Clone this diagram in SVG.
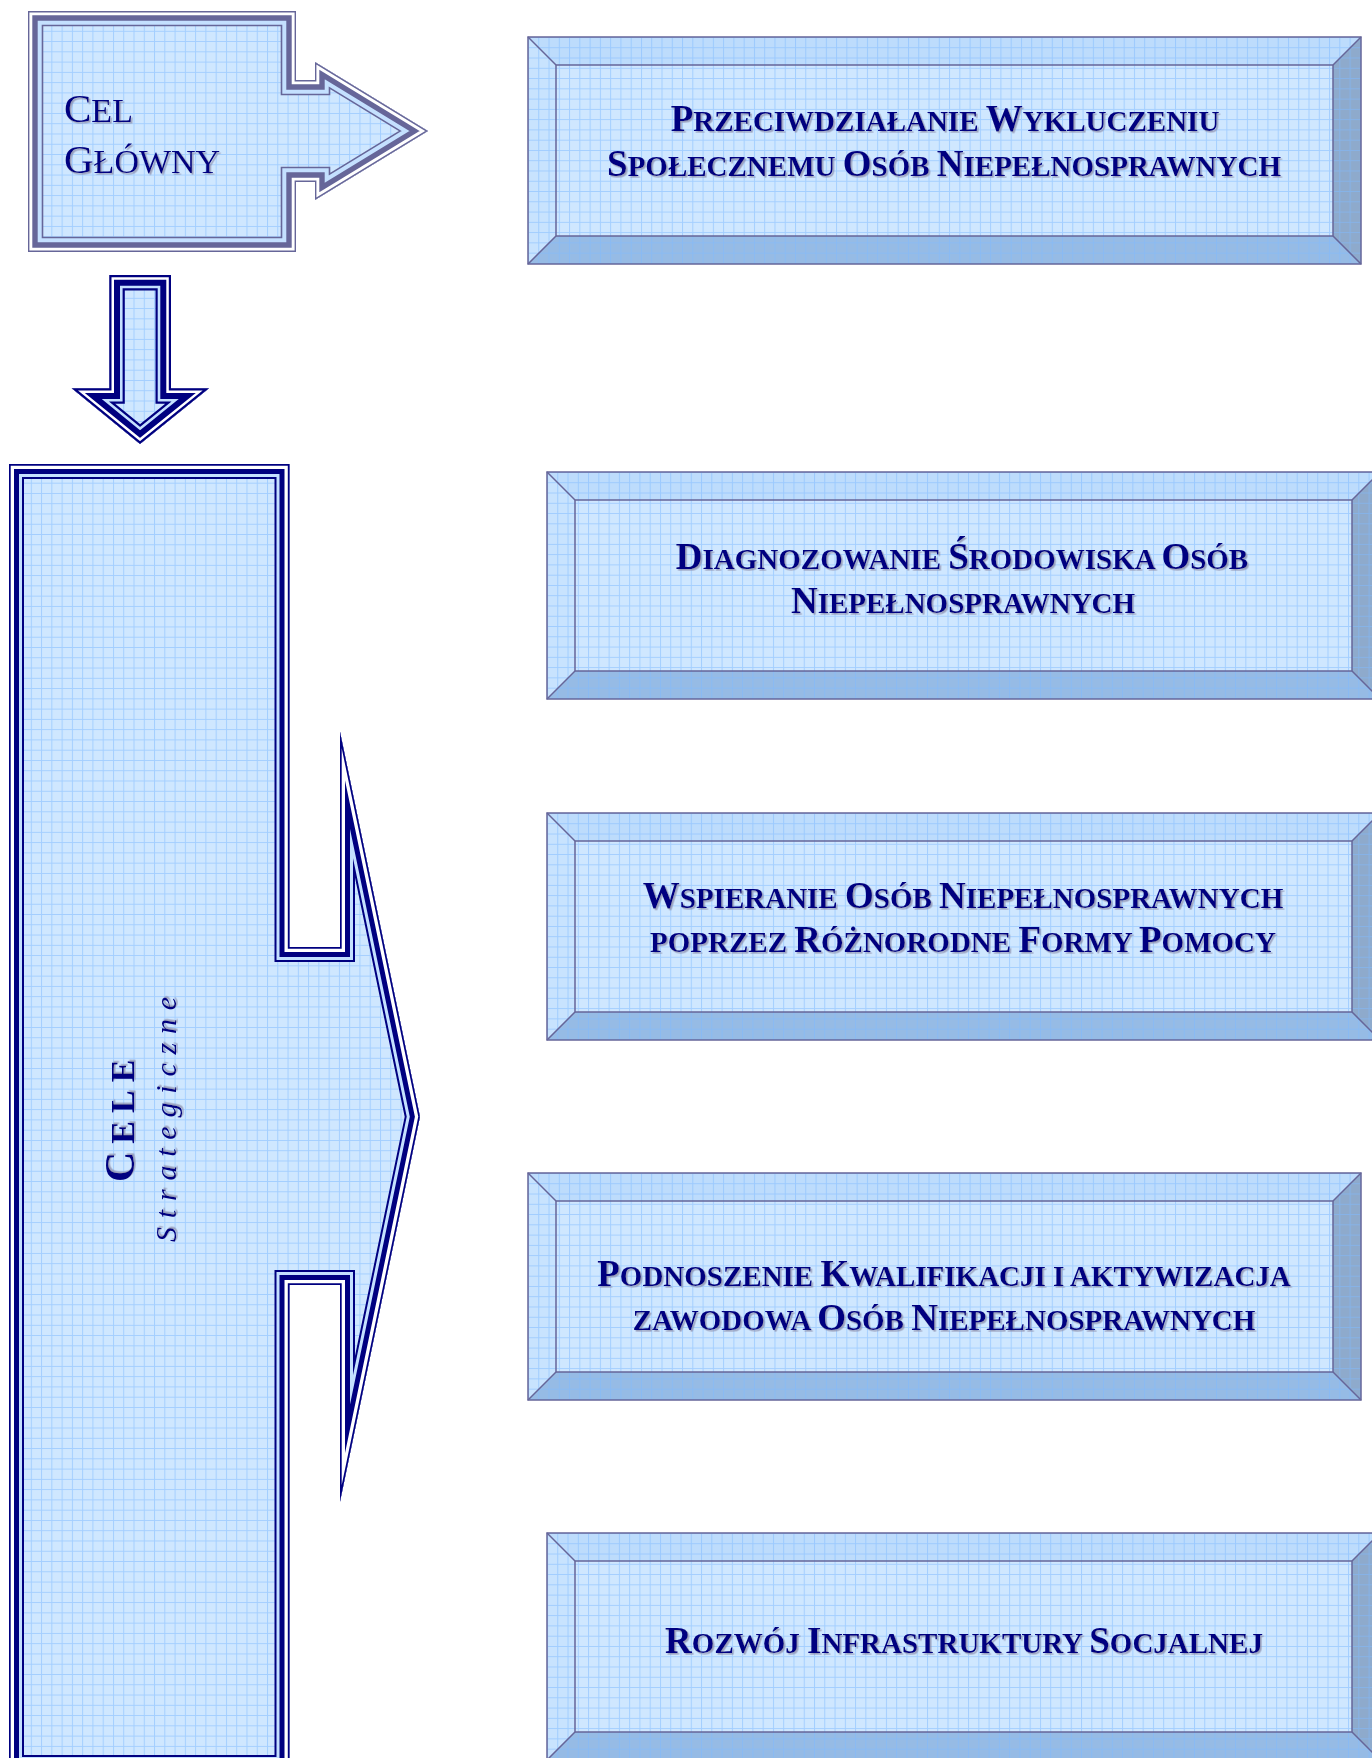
<svg xmlns="http://www.w3.org/2000/svg" width="1372" height="1758" viewBox="0 0 1372 1758">
<defs>
<style>
.t{font-family:"Liberation Serif","Times New Roman",serif;font-weight:bold;fill:#000080;filter:url(#sh);font-size:29px;text-anchor:middle}
.b{font-size:37px}
.cel{font-family:"Liberation Serif","Times New Roman",serif;fill:#000080;filter:url(#sh);font-size:34px}
.edge{fill:none;stroke:#666699;stroke-width:1.5}
</style>
<pattern id="grid" width="10.27" height="10.27" patternUnits="userSpaceOnUse">
<path d="M0 0.5H10.27M0.5 0V10.27" fill="none" stroke="#7fbaff" stroke-opacity="0.55" stroke-width="1"/>
</pattern>
<filter id="sh" x="-3%" y="-15%" width="106%" height="135%">
<feDropShadow dx="1.6" dy="1.6" stdDeviation="0.4" flood-color="#8a8aa8" flood-opacity="0.75"/>
</filter>
<path id="pCel" d="M28,11 H296 V80 H315 V62 L428,131 L315,200 V182 H296 V252 H28 Z"/>
<path id="pDown" d="M109.3,275 H171 V388.3 H209 L140,444 L71.7,388.3 H109.3 Z"/>
<path id="pCele" d="M9,464 H289.5 V947 H340 V731.7 L420,1116.7 L340,1501.7 V1285 H289.5 V1770 H9 Z"/>
<clipPath id="cCel"><use href="#pCel"/></clipPath>
<clipPath id="cDown"><use href="#pDown"/></clipPath>
<clipPath id="cCele"><use href="#pCele"/></clipPath>
<g id="bevel">
<polygon points="0,0 833,0 805,28 28,28" fill="#bddcfc"/>
<polygon points="0,0 28,28 28,199 0,227" fill="#c8e3fe"/>
<polygon points="0,227 28,199 805,199 833,227" fill="#96bbe5"/>
<polygon points="833,0 833,227 805,199 805,28" fill="#8eaacc"/>
<rect x="28" y="28" width="777" height="171" fill="#cfe7ff"/>
<rect x="0" y="0" width="833" height="227" fill="url(#grid)"/>
<rect x="0" y="0" width="833" height="227" class="edge"/>
<rect x="28" y="28" width="777" height="171" class="edge"/>
<path d="M0,0 L28,28 M833,0 L805,28 M0,227 L28,199 M833,227 L805,199" class="edge"/>
</g>
</defs>
<rect width="1372" height="1758" fill="#ffffff"/>

<g id="connectors">
<g id="arrow-down" clip-path="url(#cDown)">
<use href="#pDown" fill="#cfe7ff"/>
<use href="#pDown" fill="url(#grid)"/>
<use href="#pDown" fill="none" stroke="#000080" stroke-width="31"/>
<use href="#pDown" fill="none" stroke="#c4e0ff" stroke-width="26.6"/>
<use href="#pDown" fill="none" stroke="#000080" stroke-width="21.4"/>
<use href="#pDown" fill="none" stroke="#ffffff" stroke-width="9.4"/>
<use href="#pDown" fill="none" stroke="#000080" stroke-width="4.4"/>
</g>
</g>

<g id="cel-glowny">
<g clip-path="url(#cCel)">
<use href="#pCel" fill="#cfe7ff"/>
<use href="#pCel" fill="url(#grid)"/>
<use href="#pCel" fill="none" stroke="#666699" stroke-width="30.6"/>
<use href="#pCel" fill="none" stroke="#c4e0ff" stroke-width="27.4"/>
<use href="#pCel" fill="none" stroke="#666699" stroke-width="19.4"/>
<use href="#pCel" fill="none" stroke="#ffffff" stroke-width="8.6"/>
<use href="#pCel" fill="none" stroke="#666699" stroke-width="2.8"/>
</g>
<text class="cel" x="64" y="122"><tspan font-size="41">C</tspan>EL</text>
<text class="cel" x="64" y="173"><tspan font-size="41">G</tspan>ŁÓWNY</text>
</g>

<g id="cele-strategiczne">
<g clip-path="url(#cCele)">
<use href="#pCele" fill="#cfe7ff"/>
<use href="#pCele" fill="url(#grid)"/>
<use href="#pCele" fill="none" stroke="#000080" stroke-width="30"/>
<use href="#pCele" fill="none" stroke="#c4e0ff" stroke-width="26"/>
<use href="#pCele" fill="none" stroke="#000080" stroke-width="20"/>
<use href="#pCele" fill="none" stroke="#ffffff" stroke-width="10"/>
<use href="#pCele" fill="none" stroke="#000080" stroke-width="3.4"/>
</g>
<text transform="translate(134,1182) rotate(-90)" font-family="Liberation Serif, Times New Roman, serif" font-weight="bold" fill="#000080" filter="url(#sh)" letter-spacing="8"><tspan font-size="42">C</tspan><tspan font-size="34">ELE</tspan></text>
<text transform="translate(176,1242) rotate(-90)" font-family="Liberation Serif, Times New Roman, serif" font-style="italic" font-size="30" fill="#000080" filter="url(#sh)" letter-spacing="8.8">Strategiczne</text>
</g>

<g id="box1">
<use href="#bevel" x="528" y="37"/>
<text class="t" x="945" y="131"><tspan class="b">P</tspan>RZECIWDZIAŁANIE <tspan class="b">W</tspan>YKLUCZENIU</text>
<text class="t" x="944" y="176"><tspan class="b">S</tspan>POŁECZNEMU <tspan class="b">O</tspan>SÓB <tspan class="b">N</tspan>IEPEŁNOSPRAWNYCH</text>
</g>

<g id="box2">
<use href="#bevel" x="547" y="472"/>
<text class="t" x="962" y="569"><tspan class="b">D</tspan>IAGNOZOWANIE <tspan class="b">Ś</tspan>RODOWISKA <tspan class="b">O</tspan>SÓB</text>
<text class="t" x="963" y="613"><tspan class="b">N</tspan>IEPEŁNOSPRAWNYCH</text>
</g>

<g id="box3">
<use href="#bevel" x="547" y="813"/>
<text class="t" x="963" y="908"><tspan class="b">W</tspan>SPIERANIE <tspan class="b">O</tspan>SÓB <tspan class="b">N</tspan>IEPEŁNOSPRAWNYCH</text>
<text class="t" x="963" y="952">POPRZEZ <tspan class="b">R</tspan>ÓŻNORODNE <tspan class="b">F</tspan>ORMY <tspan class="b">P</tspan>OMOCY</text>
</g>

<g id="box4">
<use href="#bevel" x="528" y="1173"/>
<text class="t" x="944" y="1286"><tspan class="b">P</tspan>ODNOSZENIE <tspan class="b">K</tspan>WALIFIKACJI I AKTYWIZACJA</text>
<text class="t" x="944" y="1330">ZAWODOWA <tspan class="b">O</tspan>SÓB <tspan class="b">N</tspan>IEPEŁNOSPRAWNYCH</text>
</g>

<g id="box5">
<use href="#bevel" x="547" y="1533"/>
<text class="t" x="964" y="1653"><tspan class="b">R</tspan>OZWÓJ <tspan class="b">I</tspan>NFRASTRUKTURY <tspan class="b">S</tspan>OCJALNEJ</text>
</g>
</svg>
